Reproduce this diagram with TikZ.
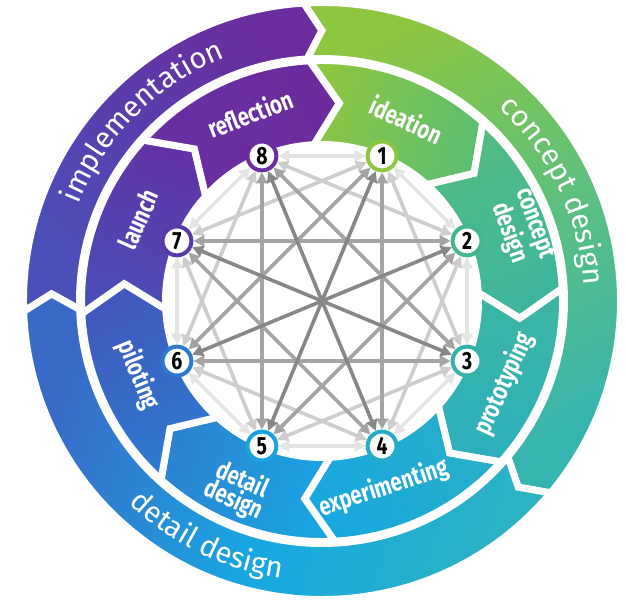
\documentclass[tikz,border=0pt]{standalone}
\usepackage{fontspec}
\setmainfont{Fira Sans}
\newfontfamily\condfont[FakeStretch=0.78]{Fira Sans}
\usetikzlibrary{arrows.meta,decorations.text,backgrounds}

% ring colours
\definecolor{cIndigo}{HTML}{4A50B8}
\definecolor{cViolet}{HTML}{5A3DAD}
\definecolor{cPurple}{HTML}{6A2C9E}
\definecolor{cGreen}{HTML}{8DC63F}
\definecolor{cLime}{HTML}{5EC07C}
\definecolor{cTeal}{HTML}{36B4B0}
\definecolor{cTealB}{HTML}{2CB3C2}
\definecolor{cCyan}{HTML}{17A8E2}
\definecolor{cBlue}{HTML}{3A6AC8}
% step colours
\definecolor{cN1}{HTML}{8DC63F}
\definecolor{cN2}{HTML}{44B591}
\definecolor{cN3}{HTML}{36B2AA}
\definecolor{cN4}{HTML}{24ADC8}
\definecolor{cN5}{HTML}{1BA3E0}
\definecolor{cN6}{HTML}{2C7AD0}
\definecolor{cN7}{HTML}{5639A8}
\definecolor{cN8}{HTML}{6A2C9E}
% chord greys
\definecolor{hopA}{HTML}{E4E4E4}
\definecolor{hopB}{HTML}{CDCDCD}
\definecolor{hopC}{HTML}{A4A4A4}
\definecolor{hopD}{HTML}{878787}

\newcommand\ringfont{\fontsize{29.5}{29.5}\selectfont}

\tikzset{
  ringcut/.style={draw=white, line width=7, line join=miter},
  phase/.style={text=white, font=\condfont\bfseries\fontsize{26}{22}\selectfont, align=center, inner sep=0pt},
  stepnum/.style={circle, fill=white, draw=#1, line width=4, minimum size=29, inner sep=0pt,
    font=\condfont\bfseries\fontsize{25}{25}\selectfont},
  chord/.style={draw=#1, line width=3.6, {Triangle[length=11pt,width=11pt]}-{Triangle[length=11pt,width=11pt]}},
  ringtext/.style={decorate, decoration={text along path, text align=center, text color=white, text={|\ringfont|#1}}},
}

\begin{document}
\begin{tikzpicture}[x=1bp,y=1bp]
\useasboundingbox (0,0) rectangle (626,608);
\begin{scope}[shift={(322,307)}]

% numbered steps
\foreach \a/\c [count=\n] in {67.5/cN1,22.5/cN2,-22.5/cN3,-67.5/cN4,-112.5/cN5,-157.5/cN6,157.5/cN7,112.5/cN8}
  \node[stepnum=\c] (s\n) at (\a:157) {\n};

% inner phase labels
\node[phase, rotate=21] (reflection) at (111:201) {reflection};
\node[phase, rotate=-25] (ideation) at (65:200) {ideation};
\node[phase, rotate=-70] (concept) at (20:212) {concept\\design};
\node[phase, rotate=65.5] (prototyping) at (-24.5:200) {prototyping};
\node[phase, rotate=18] (experimenting) at (-71.7:197) {experimenting};
\node[phase, rotate=-24] (detail) at (-114:207) {detail\\design};
\node[phase, rotate=-68] (piloting) at (-158:198) {piloting};
\node[phase, rotate=66] (launch) at (156:201) {launch};

% outer ring labels
\path[ringtext=implementation] (180:262) arc[start angle=180, end angle=90, radius=262];
\path[ringtext=concept design] (70.5:262) arc[start angle=70.5, end angle=-19.5, radius=262];
\path[ringtext=detail design] (-162:280) arc[start angle=-162, end angle=-70, radius=280];

\begin{pgfonlayer}{background}
% outer ring
\foreach \ta/\hd/\ca/\cm/\cb in {182/93.5/cIndigo/cViolet/cPurple, 93.5/-40/cGreen/cLime/cTeal, -40/-178/cTealB/cCyan/cBlue} {
  \pgfmathsetmacro\sa{(\ta+\hd)/2}
  \shadedraw[ringcut, top color=\ca, bottom color=\cb, middle color=\cm, shading angle=\sa]
    (\ta:298.5) arc[start angle=\ta, end angle=\hd, radius=298.5] -- ({\hd-3.5}:270.5)
    -- (\hd:242.5) arc[start angle=\hd, end angle=\ta, radius=242.5] -- ({\ta-3.5}:270.5) -- cycle;
}
% inner ring
\foreach \a/\ca/\cb in {67.5/8DC63F/5DBE72, 22.5/52BC80/3DB59E, -22.5/3CB5A2/2DB0BC, -67.5/28AFC8/19A7E0,
    -112.5/1AA5E2/2B83D2, -157.5/2C7BD0/4258BD, 157.5/4A4DB8/6233A5, 112.5/672FA2/6C2B9D} {
  \pgfmathsetmacro\ta{\a+25.5}
  \pgfmathsetmacro\hd{\a-19.5}
  \pgfmathsetmacro\sa{\a+3}
  \definecolor{segA}{HTML}{\ca}
  \definecolor{segB}{HTML}{\cb}
  \shadedraw[ringcut, top color=segA, bottom color=segB, shading angle=\sa]
    (\ta:240.5) arc[start angle=\ta, end angle=\hd, radius=240.5] -- ({\hd-8}:198.5)
    -- (\hd:156.5) arc[start angle=\hd, end angle=\ta, radius=156.5] -- ({\ta-8}:198.5) -- cycle;
}
% links between steps
\foreach \k/\c in {1/hopA,2/hopB,3/hopC}
  \foreach \i in {1,...,8} {
    \pgfmathtruncatemacro\j{mod(\i+\k-1,8)+1}
    \draw[chord=\c] (s\i) -- (s\j);
  }
\foreach \i in {1,...,4} {
  \pgfmathtruncatemacro\j{\i+4}
  \draw[chord=hopD] (s\i) -- (s\j);
}
\end{pgfonlayer}

\end{scope}
\end{tikzpicture}
\end{document}
